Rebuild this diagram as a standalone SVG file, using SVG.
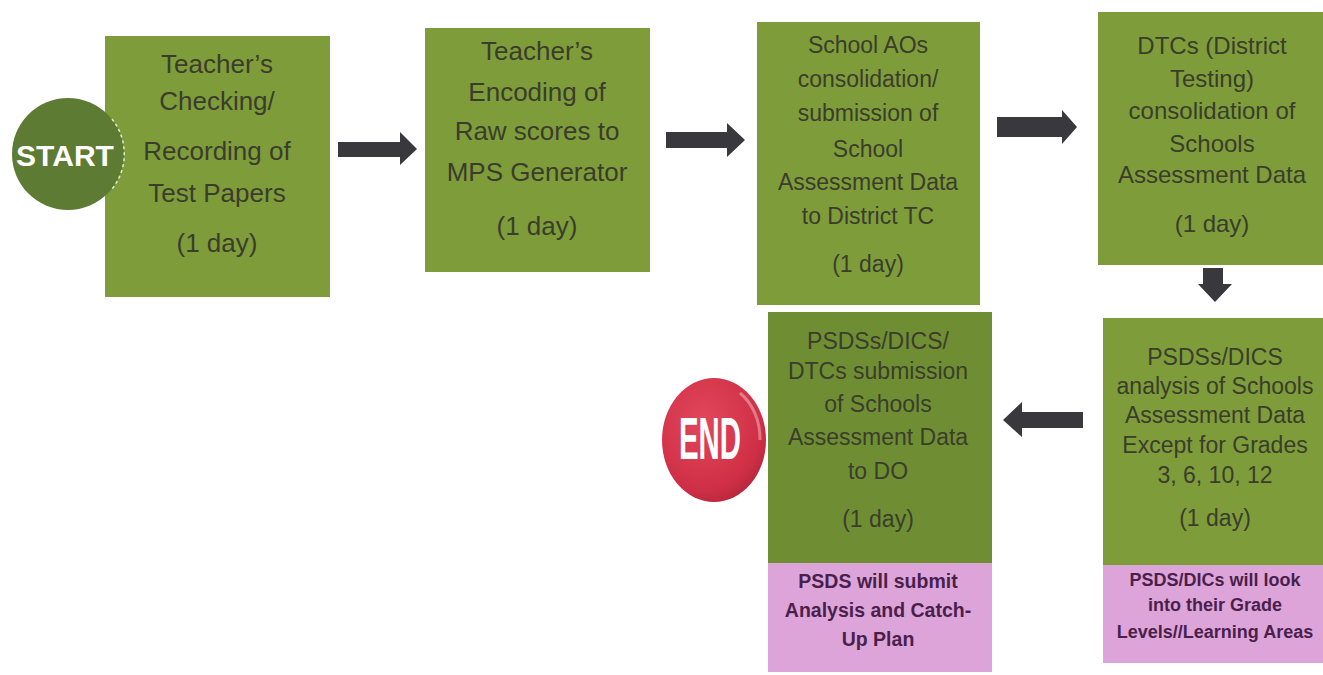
<svg xmlns="http://www.w3.org/2000/svg" width="1323" height="675" viewBox="0 0 1323 675">
<style>
.box{fill:#7e9c3a}
.box6{fill:#6f8e33}
.pink{fill:#dda4d9}
.t{font-family:"Liberation Sans",Arial,sans-serif;fill:#3b3d2c;text-anchor:middle}
.p{font-family:"Liberation Sans",Arial,sans-serif;fill:#4a1f4c;text-anchor:middle;font-weight:bold}
.arrow{fill:#38383d}
</style>
<defs>
<radialGradient id="endg" cx="0.4" cy="0.35" r="0.7">
<stop offset="0" stop-color="#e2475c"/>
<stop offset="0.8" stop-color="#cf2f46"/>
<stop offset="1" stop-color="#b4263a"/>
</radialGradient>
</defs>
<g id="connectors">
<polygon class="arrow" points="338,142 400,142 400,132 417,149 400,165 400,157 338,157"/>
<polygon class="arrow" points="666,132 727,132 727,123 745,140 727,157 727,148 666,148"/>
<polygon class="arrow" points="997,117 1062,117 1062,110 1077,127 1062,144 1062,137 997,137"/>
<polygon class="arrow" points="1203,268 1223,268 1223,284 1232,284 1215,302 1198,284 1203,284"/>
<polygon class="arrow" points="1083,412 1022,412 1022,402 1003,420 1022,437 1022,428 1083,428"/>
</g>
<g id="box1">
<rect class="box" x="105" y="36" width="225" height="261"/>
<text class="t" font-size="26" x="217" y="73">Teacher’s</text>
<text class="t" font-size="26" x="217" y="110">Checking/</text>
<text class="t" font-size="26" x="217" y="160">Recording of</text>
<text class="t" font-size="26" x="217" y="202">Test Papers</text>
<text class="t" font-size="26" x="217" y="252">(1 day)</text>
</g>
<g id="start">
<circle cx="68" cy="154" r="56" fill="#5e7b34"/>
<path d="M 112 119 A 56 56 0 0 1 112 189" fill="none" stroke="#ffffff" stroke-width="1.5" stroke-dasharray="3,3" opacity="0.8"/>
<text x="65" y="166" font-family="'Liberation Sans',Arial,sans-serif" font-weight="bold" font-size="30" fill="#ffffff" text-anchor="middle">START</text>
</g>
<g id="box2">
<rect class="box" x="425" y="28" width="225" height="244"/>
<text class="t" font-size="26" x="537" y="60">Teacher’s</text>
<text class="t" font-size="26" x="537" y="101">Encoding of</text>
<text class="t" font-size="26" x="537" y="140">Raw scores to</text>
<text class="t" font-size="26" x="537" y="181">MPS Generator</text>
<text class="t" font-size="26" x="537" y="235">(1 day)</text>
</g>
<g id="box3">
<rect class="box" x="757" y="22" width="223" height="283"/>
<text class="t" font-size="23" x="868" y="53">School AOs</text>
<text class="t" font-size="23" x="868" y="87">consolidation/</text>
<text class="t" font-size="23" x="868" y="121">submission of</text>
<text class="t" font-size="23" x="868" y="157">School</text>
<text class="t" font-size="23" x="868" y="190">Assessment Data</text>
<text class="t" font-size="23" x="868" y="224">to District TC</text>
<text class="t" font-size="23" x="868" y="272">(1 day)</text>
</g>
<g id="box4">
<rect class="box" x="1098" y="12" width="225" height="253"/>
<text class="t" font-size="24" x="1212" y="54">DTCs (District</text>
<text class="t" font-size="24" x="1212" y="87">Testing)</text>
<text class="t" font-size="24" x="1212" y="119">consolidation of</text>
<text class="t" font-size="24" x="1212" y="152">Schools</text>
<text class="t" font-size="24" x="1212" y="183">Assessment Data</text>
<text class="t" font-size="24" x="1212" y="232">(1 day)</text>
</g>
<g id="box5">
<rect class="box" x="1103" y="318" width="220" height="247"/>
<rect class="pink" x="1103" y="565" width="220" height="98"/>
<text class="t" font-size="23" x="1215" y="365">PSDSs/DICS</text>
<text class="t" font-size="23" x="1215" y="394">analysis of Schools</text>
<text class="t" font-size="23" x="1215" y="423">Assessment Data</text>
<text class="t" font-size="23" x="1215" y="453">Except for Grades</text>
<text class="t" font-size="23" x="1215" y="483">3, 6, 10, 12</text>
<text class="t" font-size="23" x="1215" y="526">(1 day)</text>
<text class="p" font-size="18" x="1215" y="586">PSDS/DICs will look</text>
<text class="p" font-size="18" x="1215" y="611">into their Grade</text>
<text class="p" font-size="18" x="1215" y="638">Levels//Learning Areas</text>
</g>
<g id="box6">
<rect class="box6" x="768" y="312" width="224" height="251"/>
<rect class="pink" x="768" y="563" width="224" height="109"/>
<text class="t" font-size="23" x="878" y="349">PSDSs/DICS/</text>
<text class="t" font-size="23" x="878" y="379">DTCs submission</text>
<text class="t" font-size="23" x="878" y="412">of Schools</text>
<text class="t" font-size="23" x="878" y="445">Assessment Data</text>
<text class="t" font-size="23" x="878" y="479">to DO</text>
<text class="t" font-size="23" x="878" y="527">(1 day)</text>
<text class="p" font-size="19.5" x="878" y="588">PSDS will submit</text>
<text class="p" font-size="19.5" x="878" y="617">Analysis and Catch-</text>
<text class="p" font-size="19.5" x="878" y="646">Up Plan</text>
</g>
<g id="end">
<ellipse cx="714" cy="440" rx="52" ry="62" fill="url(#endg)"/>
<path d="M 740 393 A 45 55 0 0 1 760 440" fill="none" stroke="#ffffff" stroke-width="3" opacity="0.35"/>
<text x="710" y="459" font-family="'Liberation Sans',Arial,sans-serif" font-weight="bold" font-size="60" fill="#ffffff" text-anchor="middle" textLength="62" lengthAdjust="spacingAndGlyphs">END</text>
</g>
</svg>
